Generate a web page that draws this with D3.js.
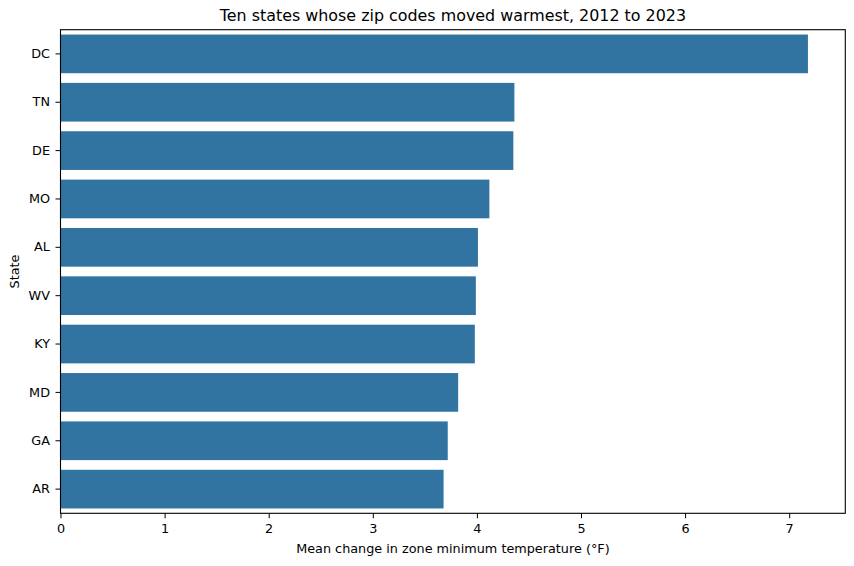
<!DOCTYPE html>
<html>
<head>
<meta charset="utf-8">
<script src="https://cdn.jsdelivr.net/npm/d3@7"></script>
<style>
  body { margin: 0; background: #fff; }
  text { font-family: "DejaVu Sans", sans-serif; fill: #000; }
</style>
</head>
<body>
<svg id="chart" width="854" height="566"></svg>
<script>
const states = ['DC', 'TN', 'DE', 'MO', 'AL', 'WV', 'KY', 'MD', 'GA', 'AR'];
const meanChange = [7.18, 4.36, 4.35, 4.12, 4.01, 3.99, 3.98, 3.82, 3.72, 3.68];
const xTicks = [0, 1, 2, 3, 4, 5, 6, 7];

const title = 'Ten states whose zip codes moved warmest, 2012 to 2023';
const xLabel = 'Mean change in zone minimum temperature (°F)';
const yLabel = 'State';

const margin = { top: 29.7, right: 8.7, bottom: 52.7, left: 60.5 };
const width = 854;
const height = 566;
const labelSize = '12.8px';

const svg = d3.select('#chart');

const x = d3.scaleLinear()
  .domain([0, d3.max(meanChange) * 1.05])
  .range([margin.left, width - margin.right]);

const y = d3.scaleBand()
  .domain(states)
  .range([margin.top, height - margin.bottom])
  .paddingInner(0.2)
  .paddingOuter(0.1);

// bars
svg.append('g')
  .selectAll('rect')
  .data(states)
  .join('rect')
  .attr('x', x(0))
  .attr('y', d => y(d))
  .attr('width', (d, i) => x(meanChange[i]) - x(0))
  .attr('height', y.bandwidth())
  .attr('fill', '#3274a1');

// axes
const xAxis = svg.append('g')
  .attr('transform', `translate(0,${height - margin.bottom})`)
  .call(d3.axisBottom(x).tickValues(xTicks).tickFormat(d3.format('d')).tickSize(5).tickPadding(6));

const yAxis = svg.append('g')
  .attr('transform', `translate(${margin.left},0)`)
  .call(d3.axisLeft(y).tickSize(5).tickPadding(5.5));

[xAxis, yAxis].forEach(g => {
  g.select('.domain').remove();
  g.selectAll('.tick line').attr('stroke', '#000').attr('stroke-width', 1);
  g.selectAll('.tick text').style('font-size', labelSize);
});

// frame
svg.append('rect')
  .attr('x', margin.left)
  .attr('y', margin.top)
  .attr('width', width - margin.right - margin.left)
  .attr('height', height - margin.bottom - margin.top)
  .attr('fill', 'none')
  .attr('stroke', '#000')
  .attr('stroke-width', 1.1);

// labels
svg.append('text')
  .attr('x', (margin.left + width - margin.right) / 2)
  .attr('y', 20.5)
  .attr('text-anchor', 'middle')
  .style('font-size', '15.9px')
  .text(title);

svg.append('text')
  .attr('x', (margin.left + width - margin.right) / 2)
  .attr('y', 553)
  .attr('text-anchor', 'middle')
  .style('font-size', labelSize)
  .text(xLabel);

svg.append('text')
  .attr('transform', `translate(19,${(margin.top + height - margin.bottom) / 2}) rotate(-90)`)
  .attr('text-anchor', 'middle')
  .style('font-size', labelSize)
  .text(yLabel);
</script>
</body>
</html>
